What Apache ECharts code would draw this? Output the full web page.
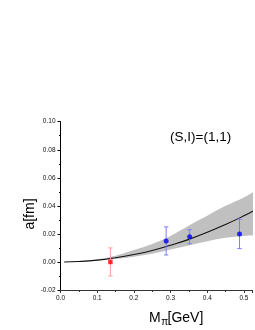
<!DOCTYPE html>
<html>
<head>
<meta charset="utf-8">
<script src="https://cdn.jsdelivr.net/npm/echarts@6/dist/echarts.min.js"></script>
<style>
html,body{margin:0;padding:0;background:#fff;}
#chart{width:255px;height:330px;}
</style>
</head>
<body>
<div id="chart"></div>
<script>
// Fit curve and its uncertainty band
var bandX     = [0.01, 0.05, 0.10, 0.15, 0.20, 0.25, 0.30, 0.35, 0.40, 0.45, 0.50, 0.53];
var fitCenter = [0.0000, 0.0003, 0.0013, 0.0030, 0.0053, 0.0082, 0.0119, 0.0161, 0.0211, 0.0267, 0.0329, 0.0370];
var fitUpper  = [0.0000, 0.0004, 0.0018, 0.0045, 0.0085, 0.0128, 0.0185, 0.0260, 0.0330, 0.0400, 0.0460, 0.0505];
var fitLower  = [0.0000, 0.0002, 0.0009, 0.0021, 0.0037, 0.0058, 0.0088, 0.0118, 0.0148, 0.0172, 0.0185, 0.0192];

// Data points
var redX = [0.136], redY = [0.000], redErr = [0.010];
var blueX = [0.288, 0.352, 0.488], blueY = [0.015, 0.018, 0.020], blueErr = [0.010, 0.005, 0.0105];

var xTicks = [0.0, 0.1, 0.2, 0.3, 0.4, 0.5];
var yTicks = [-0.02, 0.00, 0.02, 0.04, 0.06, 0.08, 0.10];

var chart = echarts.init(document.getElementById('chart'), null, {renderer: 'canvas'});

function zip(a, b, c) {
  return a.map(function (v, i) { return c ? [v, b[i], c[i]] : [v, b[i]]; });
}

// Catmull-Rom spline through pixel points -> SVG cubic segments
function splineSegs(p) {
  var s = '';
  for (var i = 0; i < p.length - 1; i++) {
    var p0 = p[i - 1] || p[i], p1 = p[i], p2 = p[i + 1], p3 = p[i + 2] || p[i + 1];
    var c1x = p1[0] + (p2[0] - p0[0]) / 6, c1y = p1[1] + (p2[1] - p0[1]) / 6;
    var c2x = p2[0] - (p3[0] - p1[0]) / 6, c2y = p2[1] - (p3[1] - p1[1]) / 6;
    s += ' C' + c1x + ',' + c1y + ' ' + c2x + ',' + c2y + ' ' + p2[0] + ',' + p2[1];
  }
  return s;
}

function errRender(color) {
  return function (params, api) {
    var x = api.value(0), y = api.value(1), e = api.value(2);
    var top = api.coord([x, y + e]);
    var bot = api.coord([x, y - e]);
    var st = {stroke: color, lineWidth: 1};
    return {
      type: 'group',
      children: [
        {type: 'line', shape: {x1: top[0], y1: top[1], x2: bot[0], y2: bot[1]}, style: st},
        {type: 'line', shape: {x1: top[0] - 2.2, y1: top[1], x2: top[0] + 2.2, y2: top[1]}, style: st},
        {type: 'line', shape: {x1: bot[0] - 2.2, y1: bot[1], x2: bot[0] + 2.2, y2: bot[1]}, style: st}
      ]
    };
  };
}

var font = 'Arial, "Liberation Sans", sans-serif';

chart.setOption({
  animation: false,
  backgroundColor: '#fff',
  grid: {left: 60.5, top: 121.7, right: 0, bottom: 40, containLabel: false},
  xAxis: {
    type: 'value', min: 0, max: 0.522, interval: 0.1,
    axisLine: {show: true, onZero: false, lineStyle: {color: '#333', width: 1}},
    axisTick: {show: true, length: 3, lineStyle: {color: '#333'}},
    minorTick: {show: true, splitNumber: 2, length: 2, lineStyle: {color: '#333'}},
    splitLine: {show: false},
    axisLabel: {
      margin: 5, fontSize: 6.5, color: '#111', fontFamily: font,
      formatter: function (v) {
        for (var i = 0; i < xTicks.length; i++) if (Math.abs(v - xTicks[i]) < 1e-6) return xTicks[i].toFixed(1);
        return '';
      }
    }
  },
  yAxis: {
    type: 'value', min: yTicks[0], max: yTicks[yTicks.length - 1], interval: 0.02,
    axisLine: {show: true, onZero: false, lineStyle: {color: '#000', width: 1}},
    axisTick: {show: true, length: 3, lineStyle: {color: '#000'}},
    minorTick: {show: true, splitNumber: 2, length: 1.5, lineStyle: {color: '#000'}},
    splitLine: {show: false},
    axisLabel: {
      margin: 5, fontSize: 6.5, color: '#111', fontFamily: font,
      formatter: function (v) { return v.toFixed(2); }
    }
  },
  series: [
    {
      type: 'custom', name: 'band', z: 1, silent: true, clip: true,
      data: [[0, 0]],
      renderItem: function (params, api) {
        var up = [], lo = [];
        for (var i = 0; i < bandX.length; i++) {
          up.push(api.coord([bandX[i], fitUpper[i]]));
          lo.push(api.coord([bandX[i], fitLower[i]]));
        }
        lo.reverse();
        var d = 'M' + up[0][0] + ',' + up[0][1] + splineSegs(up) +
                ' L' + lo[0][0] + ',' + lo[0][1] + splineSegs(lo) + ' Z';
        return {type: 'path', shape: {pathData: d}, style: {fill: '#c0c0c0', stroke: null}};
      }
    },
    {
      type: 'line', name: 'fit', z: 2, smooth: true, symbol: 'none',
      data: zip(bandX, fitCenter),
      lineStyle: {color: '#111', width: 1.1}
    },
    {
      type: 'custom', name: 'redErr', z: 3,
      data: zip(redX, redY, redErr),
      renderItem: errRender('#ff9a9a')
    },
    {
      type: 'custom', name: 'blueErr', z: 3,
      data: zip(blueX, blueY, blueErr),
      renderItem: errRender('#7b7bff')
    },
    {
      type: 'scatter', name: 'red', z: 4, symbol: 'rect', symbolSize: 4.5,
      data: zip(redX, redY), itemStyle: {color: '#ff0000'}
    },
    {
      type: 'scatter', name: 'blue', z: 4, symbol: 'circle', symbolSize: 5,
      data: zip(blueX, blueY), itemStyle: {color: '#0000ff'}
    }
  ],
  graphic: [
    {type: 'text', left: 170, top: 130, style: {text: '(S,I)=(1,1)', font: '13.5px ' + font, fill: '#000'}},
    {type: 'text', x: 30, y: 214, rotation: Math.PI / 2,
     style: {text: 'a[fm]', font: '14px ' + font, fill: '#000', align: 'center', verticalAlign: 'middle'}},
    {type: 'text', x: 149, y: 318, style: {text: 'M', font: '14px ' + font, fill: '#000', align: 'left', verticalAlign: 'middle'}},
    {type: 'text', x: 161.3, y: 322.5, style: {text: 'π', font: '10px ' + font, fill: '#000', align: 'left', verticalAlign: 'middle'}},
    {type: 'text', x: 167.5, y: 318, style: {text: '[GeV]', font: '14px ' + font, fill: '#000', align: 'left', verticalAlign: 'middle'}}
  ]
});
</script>
</body>
</html>
